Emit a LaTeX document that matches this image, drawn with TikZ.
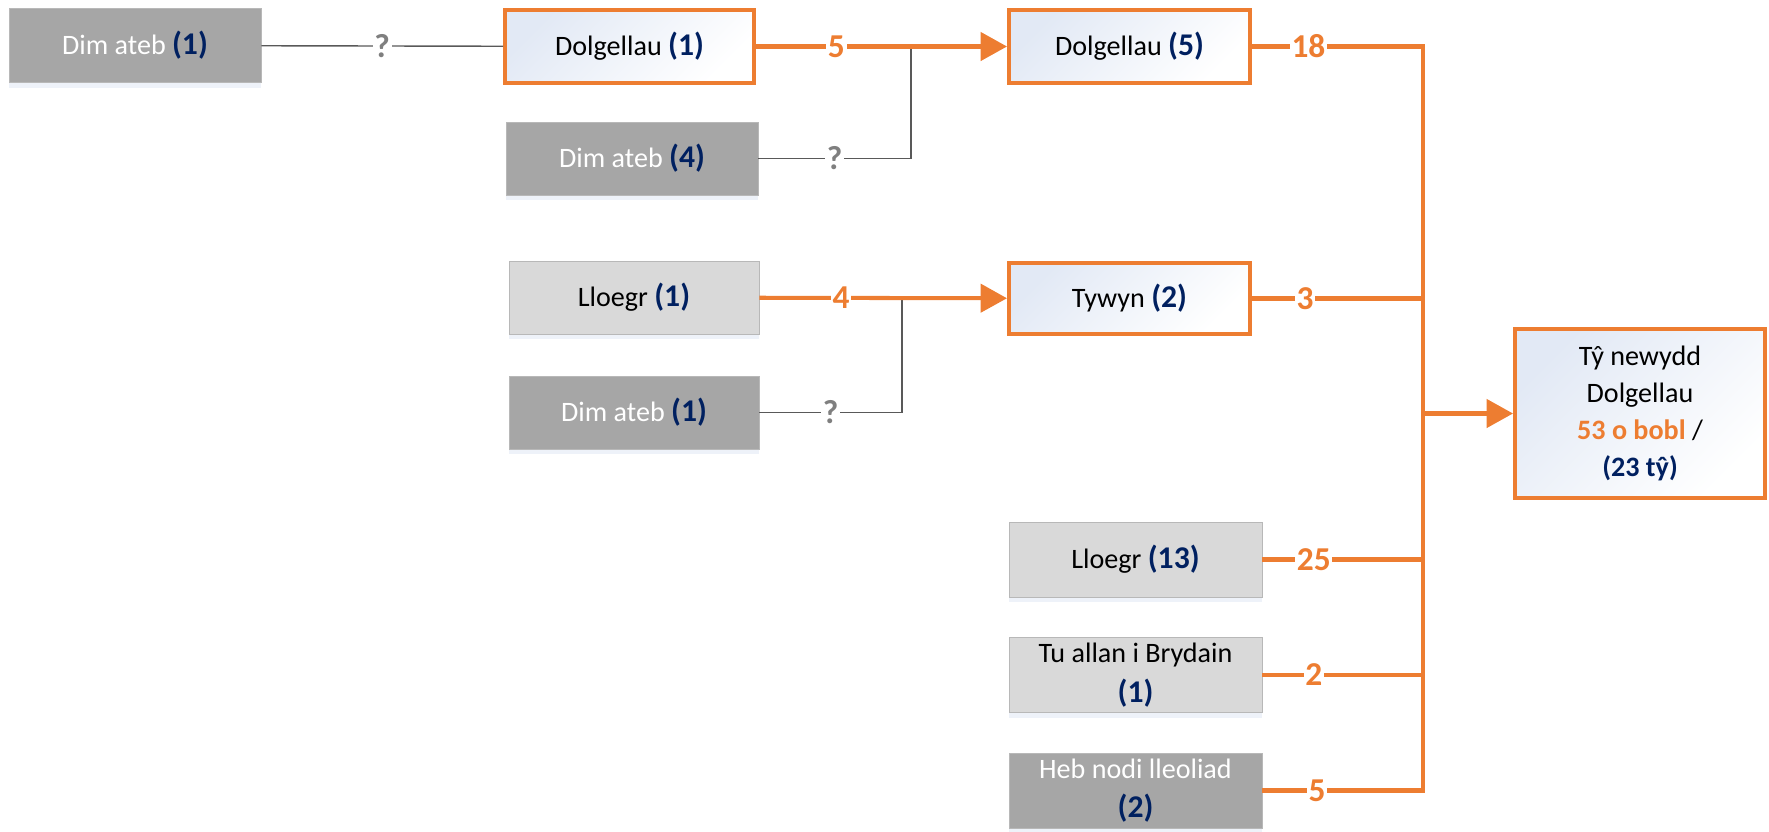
\documentclass[tikz,border=0pt]{standalone}
\usepackage{fontspec}
\setmainfont{Carlito}
\usepackage{tikz}
\usetikzlibrary{arrows.meta,shadows}

\definecolor{cOrange}{HTML}{ED7D31}
\definecolor{cNavy}{HTML}{002060}
\definecolor{cDark}{HTML}{A6A6A6}
\definecolor{cLight}{HTML}{D9D9D9}
\definecolor{cQ}{HTML}{7F7F7F}
\definecolor{cLine}{HTML}{595959}
\definecolor{cTint}{HTML}{E2E9F5}

\newcommand{\cnt}[1]{{\fontsize{18}{22}\selectfont\bfseries\color{cNavy}(#1)}}

\tikzset{
  box/.style={minimum width=5.04cm, minimum height=1.48cm, inner sep=2pt, align=center,
    font=\fontsize{16}{22.5}\selectfont},
  nobox/.style={box, fill=cDark, draw=cDark!80!white, text=white,
    drop shadow={shadow xshift=0pt, shadow yshift=-3pt, fill=cTint, opacity=.6}},
  greybox/.style={box, fill=cLight, draw=cLight!85!black,
    drop shadow={shadow xshift=0pt, shadow yshift=-3pt, fill=cTint, opacity=.6}},
  hotbox/.style={box, draw=cOrange, line width=2.3pt, top color=cTint, bottom color=white,
    shading angle=45},
  flow/.style={cOrange, line width=2.3pt},
  flowtip/.style={-{Triangle[length=15pt,width=16pt]}},
  unk/.style={cLine, line width=0.8pt},
  lab/.style={fill=white, inner sep=1pt, text=cOrange, font=\fontsize{19}{21}\selectfont\bfseries},
  qlab/.style={lab, text=cQ},
}

\begin{document}
\begin{tikzpicture}[x=0.02cm, y=-0.02cm]
	\useasboundingbox (0,0) rectangle (1769,832);
	\node[nobox] (dimA) at (135,45.5) {Dim ateb \cnt{1}};
	\node[hotbox, minimum width=4.98cm, minimum height=1.46cm] (dolA) at (629.5,46.5) {Dolgellau \cnt{1}};
	\node[nobox, minimum height=1.46cm] (dimB) at (632,158.5) {Dim ateb \cnt{4}};
	\node[hotbox, minimum width=4.82cm, minimum height=1.46cm] (dolB) at (1129.5,46.5) {Dolgellau \cnt{5}};
	\node[greybox, minimum width=5cm, minimum height=1.46cm] (lloA) at (634,297.5) {Lloegr \cnt{1}};
	\node[hotbox, minimum width=4.82cm, minimum height=1.42cm] (tyw) at (1129.5,298.5) {Tywyn \cnt{2}};
	\node[nobox, minimum width=5cm, minimum height=1.46cm] (dimC) at (634,412.5) {Dim ateb \cnt{1}};
	\node[hotbox, minimum width=5cm, minimum height=3.38cm, font=\fontsize{16}{21}\selectfont] (home) at (1640,413.5)
		{Tŷ newydd\\Dolgellau\\{\bfseries\color{cOrange}53 o bobl} /\\{\bfseries\color{cNavy}(23 tŷ)}};
	\node[greybox, minimum width=5.06cm, minimum height=1.5cm] (lloB) at (1135.5,559.5) {Lloegr \cnt{13}};
	\node[greybox, minimum width=5.06cm, minimum height=1.5cm] (abroad) at (1135.5,675) {Tu allan i Brydain\\\cnt{1}};
	\node[nobox, minimum width=5.06cm, minimum height=1.5cm] (unknown) at (1135.5,790.5) {Heb nodi lleoliad\\\cnt{2}};

	\coordinate (jA) at (911,46.5);
	\coordinate (jB) at (902,298.5);
	\coordinate (busT) at (1423,46.5);
	\coordinate (busB) at (1423,790.5);
	\coordinate (busM) at (1423,413.5);

	\draw[unk] (dimA) to node[qlab] {?} (dolA);
	\draw[unk] (dimB.east) -| node[qlab, pos=.25] {?} (jA);
	\draw[unk] (dimC.east) -| node[qlab, pos=.25] {?} (jB);
	\draw[flow, flowtip] (dolA) to node[lab, pos=.32] {5} (dolB);
	\draw[flow, flowtip] (lloA) to node[lab, pos=.33] {4} (tyw);
	\draw[flow] (dolB.east) to node[lab, pos=.33] {18} (busT);
	\draw[flow] (tyw.east) to node[lab, pos=.31] {3} (tyw.east -| busT);
	\draw[flow] (lloB.east) to node[lab, pos=.32] {25} (lloB.east -| busT);
	\draw[flow] (abroad.east) to node[lab, pos=.32] {2} (abroad.east -| busT);
	\draw[flow] (unknown.east) to node[lab, pos=.34] {5} (busB);
	\draw[flow, line cap=rect] (busT) to (busB);
	\draw[flow, flowtip] (busM) to (home);
\end{tikzpicture}
\end{document}
